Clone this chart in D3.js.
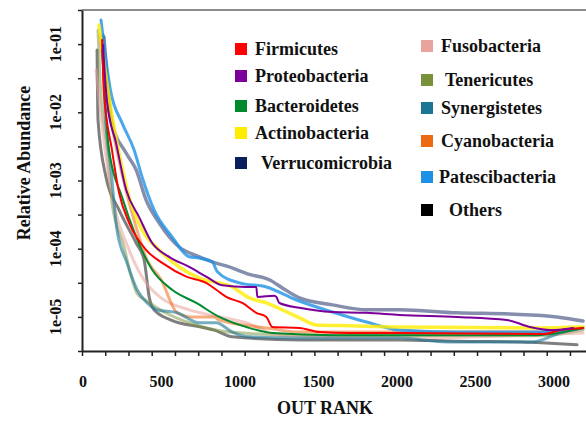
<!DOCTYPE html>
<html>
<head>
<meta charset="utf-8">
<script src="https://cdn.jsdelivr.net/npm/d3@7"></script>
<style>
  html, body { margin: 0; padding: 0; background: #fff; }
  svg { display: block; font-family: "Liberation Serif", "Times New Roman", serif; font-weight: bold; }
</style>
</head>
<body>
<svg id="chart" width="586" height="422"></svg>
<script>
// [OTU rank, relative abundance]
const firmicutes = [[128, 0.115], [140, 0.0191], [191, 0.0028], [236, 6.6e-4], [300, 2.4e-4], [408, 9.6e-5], [511, 6.2e-5], [664, 3.9e-5], [791, 3.15e-5], [855, 2.5e-5], [919, 1.96e-5], [1021, 1.6e-5], [1110, 1.15e-5], [1174, 1.0e-5], [1213, 7.1e-6], [1385, 6.9e-6], [1512, 6.0e-6], [1704, 5.8e-6], [2023, 5.8e-6], [2936, 5.6e-6], [3045, 6.4e-6], [3191, 6.9e-6]];
const proteobacteria = [[134, 0.097], [160, 0.0137], [217, 0.00354], [281, 7.3e-4], [364, 2.9e-4], [447, 1.21e-4], [555, 7.6e-5], [683, 5.4e-5], [791, 3.9e-5], [893, 2.9e-5], [1047, 2.75e-5], [1110, 2.75e-5], [1117, 1.96e-5], [1225, 2.05e-5], [1238, 1.96e-5], [1257, 1.6e-5], [1385, 1.36e-5], [1595, 1.18e-5], [1812, 1.15e-5], [2023, 1.07e-5], [2387, 1.0e-5], [2706, 9.0e-6], [2853, 7.1e-6], [2980, 6.4e-6], [3127, 6.9e-6]];
const bacteroidetes = [[128, 0.082], [172, 0.0028], [255, 5.7e-4], [345, 1.49e-4], [447, 4.9e-5], [574, 2.5e-5], [728, 1.6e-5], [874, 1.0e-5], [1047, 7.1e-6], [1213, 5.8e-6], [1595, 5.4e-6], [2023, 5.4e-6], [2897, 5.4e-6], [3191, 6.9e-6]];
const actinobacteria = [[108, 0.19], [185, 0.0108], [236, 0.00253], [300, 5.7e-4], [383, 1.88e-4], [491, 9.6e-5], [619, 5.4e-5], [747, 3.7e-5], [957, 2.75e-5], [1066, 1.9e-5], [1174, 1.6e-5], [1276, 1.27e-5], [1385, 9.7e-6], [1493, 7.6e-6], [1704, 7.4e-6], [2023, 7.1e-6], [2916, 6.9e-6], [3191, 7.1e-6]];
const verrucomicrobia = [[140, 0.127], [191, 0.0070], [281, 0.00253], [345, 0.00143], [408, 5.2e-4], [491, 2.4e-4], [619, 1.06e-4], [728, 7.9e-5], [830, 6.4e-5], [938, 5.4e-5], [1066, 4.2e-5], [1193, 3.5e-5], [1276, 2.66e-5], [1385, 1.9e-5], [1595, 1.5e-5], [1812, 1.27e-5], [2023, 1.27e-5], [2387, 1.15e-5], [2725, 1.1e-5], [3025, 1.0e-5], [3191, 8.7e-6]];
const fusobacteria = [[89, 0.0416], [153, 0.00221], [185, 7.3e-4], [300, 9.6e-5], [408, 3.15e-5], [504, 1.9e-5], [683, 1.27e-5], [842, 1.04e-5], [1047, 8.2e-6], [1257, 5.4e-6], [2023, 4.9e-6], [3191, 5.8e-6]];
const tenericutes = [[102, 0.16], [115, 0.03], [160, 0.0028], [191, 4.7e-4], [268, 1.06e-4], [313, 3.9e-5], [351, 2.2e-5], [415, 1.7e-5], [523, 1.18e-5], [683, 8.2e-6], [938, 6.0e-6], [1385, 5.4e-6], [2916, 5.3e-6], [3191, 6.4e-6]];
const synergistetes = [[134, 0.136], [147, 0.0108], [185, 0.00143], [223, 1.88e-4], [287, 6.2e-5], [351, 2.5e-5], [415, 1.6e-5], [479, 1.27e-5], [606, 1.15e-5], [747, 8.2e-6], [855, 8.2e-6], [957, 6.0e-6], [1066, 5.1e-6], [1385, 4.9e-6], [2023, 4.9e-6], [2323, 4.3e-6], [2872, 4.3e-6], [3045, 5.8e-6], [3191, 6.9e-6]];
const cyanobacteria = [[115, 0.136], [185, 0.0077], [249, 0.00143], [332, 2.6e-4], [415, 6.8e-5], [504, 3.5e-5], [606, 1.15e-5], [696, 1.0e-5], [842, 1.0e-5], [874, 9.0e-6], [1174, 6.9e-6], [1385, 6.0e-6], [2916, 6.0e-6], [3191, 6.9e-6]];
const patescibacteria = [[121, 0.225], [185, 0.0191], [255, 0.0070], [332, 0.0028], [383, 0.00112], [459, 3.7e-4], [574, 1.49e-4], [683, 7.6e-5], [747, 7.3e-5], [830, 6.4e-5], [862, 4.6e-5], [1002, 3.15e-5], [1174, 2.75e-5], [1366, 1.77e-5], [1595, 1.18e-5], [1812, 8.4e-6], [2023, 6.4e-6], [2387, 6.0e-6], [2916, 6.0e-6], [3045, 6.2e-6], [3191, 6.9e-6]];
const others = [[96, 0.082], [102, 0.0077], [153, 0.00112], [236, 3.7e-4], [345, 1.21e-4], [396, 6.8e-5], [428, 1.96e-5], [459, 1.27e-5], [568, 9.0e-6], [759, 7.1e-6], [842, 6.4e-6], [957, 5.1e-6], [1385, 4.6e-6], [2023, 4.6e-6], [2387, 4.4e-6], [2808, 4.3e-6], [2897, 4.2e-6], [3153, 3.9e-6]];

const phyla = ["Firmicutes", "Proteobacteria", "Bacteroidetes", "Actinobacteria", "Verrucomicrobia",
  "Fusobacteria", "Tenericutes", "Synergistetes", "Cyanobacteria", "Patescibacteria", "Others"];
const phylumData = [firmicutes, proteobacteria, bacteroidetes, actinobacteria, verrucomicrobia,
  fusobacteria, tenericutes, synergistetes, cyanobacteria, patescibacteria, others];
const phylumColors = ["#ff0000", "#7b0099", "#008a2e", "#ffec00", "#0b1f5c",
  "#e8a39c", "#77923a", "#1b7696", "#ec6a12", "#1d91e6", "#000000"];

const xLabels = [0, 500, 1000, 1500, 2000, 2500, 3000];
const yLabels = [1e-1, 1e-2, 1e-3, 1e-4, 1e-5];

// line look per phylum (width, opacity)
const lineStyle = {
  Firmicutes: [2, 1], Proteobacteria: [2, 1], Bacteroidetes: [2, 1], Actinobacteria: [3.5, 0.8],
  Verrucomicrobia: [3.5, 0.5], Fusobacteria: [3, 0.55], Tenericutes: [3, 0.5], Synergistetes: [3, 0.6],
  Cyanobacteria: [3, 0.55], Patescibacteria: [3, 0.8], Others: [3, 0.5]
};
const drawOrder = ["Others", "Tenericutes", "Fusobacteria", "Cyanobacteria", "Synergistetes", "Verrucomicrobia",
  "Patescibacteria", "Actinobacteria", "Bacteroidetes", "Firmicutes", "Proteobacteria"];

const svg = d3.select('#chart');
const m = { left: 82, top: 10, bottom: 351, right: 586 };

const x = d3.scaleLinear().domain([0, 3210]).range([m.left, m.right]);
const y = d3.scaleLog().domain([Math.pow(10, -5.5), Math.pow(10, -0.5)]).range([m.bottom, m.top]);

svg.append('clipPath').attr('id', 'clip')
  .append('rect').attr('x', m.left).attr('y', m.top)
  .attr('width', m.right - m.left).attr('height', m.bottom - m.top);

const line = d3.line().curve(d3.curveMonotoneX).x((d) => x(d[0])).y((d) => y(d[1]));

svg.append('g').attr('clip-path', 'url(#clip)')
  .selectAll('path')
  .data(drawOrder)
  .join('path')
  .attr('d', (name) => line(phylumData[phyla.indexOf(name)]))
  .attr('fill', 'none')
  .attr('stroke', (name) => phylumColors[phyla.indexOf(name)])
  .attr('stroke-width', (name) => lineStyle[name][0])
  .attr('stroke-opacity', (name) => lineStyle[name][1])
  .attr('stroke-linejoin', 'round')
  .attr('stroke-linecap', 'round');

// frame: top border
svg.append('line')
  .attr('x1', m.left).attr('x2', m.right).attr('y1', m.top).attr('y2', m.top)
  .attr('stroke', '#666').attr('stroke-width', 1.5);

// y axis: ticks every half decade
const halfDecades = d3.range(-0.5, -5.51, -0.5).map((e) => Math.pow(10, e));
const yAxis = svg.append('g')
  .attr('transform', `translate(${m.left},0)`)
  .call(d3.axisLeft(y).tickValues(halfDecades).tickSize(4).tickSizeOuter(0).tickFormat(''));
yAxis.select('.domain').attr('stroke', '#222').attr('stroke-width', 2);
yAxis.selectAll('.tick line').attr('stroke', '#222').attr('stroke-width', 1.5);

svg.append('g').selectAll('text')
  .data(yLabels)
  .join('text')
  .attr('transform', (d) => `translate(61,${y(d)}) rotate(-90)`)
  .attr('text-anchor', 'middle')
  .attr('font-size', 16)
  .attr('fill', '#111')
  .text((d) => '1e-0' + Math.round(-Math.log10(d)));

// x axis: minor ticks, labels every 500
const xAxis = svg.append('g')
  .attr('transform', `translate(0,${m.bottom})`)
  .call(d3.axisBottom(x).tickValues(d3.range(0, 3211, 148)).tickSize(5).tickSizeOuter(0).tickFormat(''));
xAxis.select('.domain').attr('stroke', '#222').attr('stroke-width', 2);
xAxis.selectAll('.tick line').attr('stroke', '#222').attr('stroke-width', 1.5);

svg.append('g').selectAll('text')
  .data(xLabels)
  .join('text')
  .attr('x', (d) => x(d) + 1)
  .attr('y', 387)
  .attr('text-anchor', 'middle')
  .attr('font-size', 16)
  .attr('fill', '#111')
  .text((d) => d);

svg.append('text')
  .attr('x', 325).attr('y', 414)
  .attr('text-anchor', 'middle')
  .attr('font-size', 18)
  .attr('fill', '#111')
  .text('OUT RANK');

svg.append('text')
  .attr('transform', 'translate(30,163) rotate(-90)')
  .attr('text-anchor', 'middle')
  .attr('font-size', 18)
  .attr('fill', '#111')
  .text('Relative Abundance');

// legend: two columns
const legendPos = [
  [235, 49, 0], [235, 76, 0], [235, 106, 0], [235, 133, 0], [235, 163, 6],
  [421, 46, 0], [421, 80, 4], [421, 108, 0], [421, 141, 0], [421, 177, -2], [421, 210, 8]
];
const legend = svg.append('g').selectAll('g')
  .data(phyla)
  .join('g')
  .attr('transform', (d, i) => `translate(${legendPos[i][0]},${legendPos[i][1]})`);

legend.append('rect')
  .attr('x', 0).attr('y', -6).attr('width', 12).attr('height', 12)
  .attr('fill', (d, i) => phylumColors[i]);

legend.append('text')
  .attr('x', (d, i) => 20 + legendPos[i][2])
  .attr('y', 6)
  .attr('font-size', 18)
  .attr('fill', '#111')
  .text((d) => d);
</script>
</body>
</html>
